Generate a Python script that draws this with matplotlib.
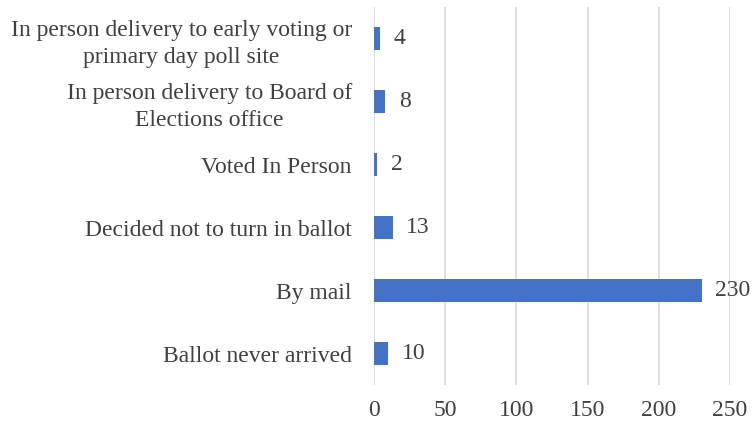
import matplotlib.pyplot as plt

plt.rcParams['font.family'] = ['Liberation Serif', 'DejaVu Serif']

categories = ['Ballot never arrived', 'By mail', 'Decided not to turn in ballot',
              'Voted In Person', 'In person delivery to Board of\nElections office',
              'In person delivery to early voting or\nprimary day poll site']
counts = [10, 230, 13, 2, 8, 4]
xticks = [0, 50, 100, 150, 200, 250]

fig = plt.figure(figsize=(7.56, 4.24), dpi=100)
ax = fig.add_axes([0.4947, 0.092, 0.4709, 0.891])

bars = ax.barh(range(len(categories)), counts, height=0.365, color='#4472C4', zorder=3)
for b, v in zip(bars, counts):
    ax.annotate(str(v), (b.get_width(), b.get_y() + b.get_height() / 2),
                xytext=(10, 0), textcoords='offset points', va='center', ha='left',
                fontsize=17, color='#404040')

ax.set_xlim(0, 250)
ax.set_ylim(-0.5, len(categories) - 0.5)
ax.set_xticks(xticks)
ax.set_yticks(range(len(categories)))
ax.set_yticklabels(categories, linespacing=1.35, multialignment='center')
ax.tick_params(axis='both', length=0, labelsize=17, labelcolor='#404040')
ax.tick_params(axis='y', pad=16)
ax.tick_params(axis='x', pad=11)
ax.grid(axis='x', color='#D9D9D9', linewidth=1.2, zorder=0)
for s in ax.spines.values():
    s.set_visible(False)

fig.savefig('out.png', dpi=100)
